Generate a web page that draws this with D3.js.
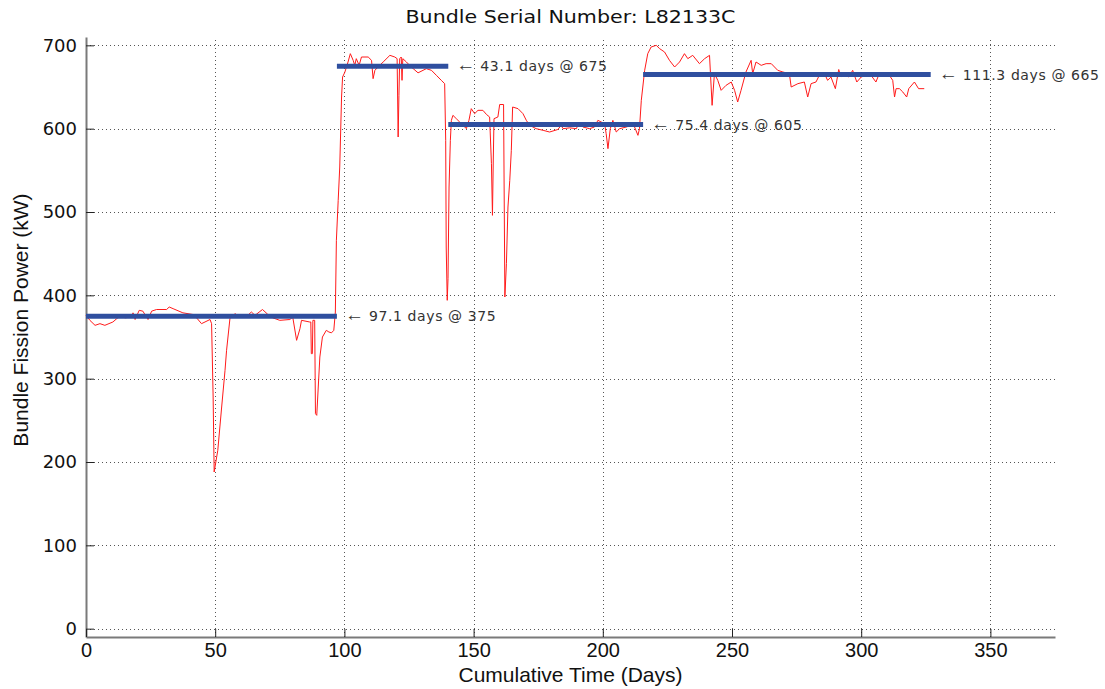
<!DOCTYPE html>
<head>
<meta charset="utf-8">
<title>Bundle Fission Power</title>
<script type="text/javascript" src="https://d3js.org/d3.v7.min.js"></script>
<style>
body { margin: 0; background: #fff; }
.grid line { stroke: #555; stroke-width: 1; stroke-dasharray: 1,3; shape-rendering: crispEdges; }
.grid path { display: none; }
.axis path { stroke: #7a7a7a; stroke-width: 2; fill: none; }
.axis line { stroke: #222; stroke-width: 1; }
.axis text { fill: #111; }
.ytick text { font-family: "DejaVu Sans"; font-size: 18px; }
.xtick text { font-family: "Liberation Sans"; font-size: 20px; }
.label { font-family: "Liberation Sans"; font-size: 21px; fill: #111; }
.title { font-family: "DejaVu Sans"; font-size: 18px; fill: #111; }
.power { fill: none; stroke: #ff1a1a; stroke-width: 1; }
.level { stroke: #2f4f9f; stroke-width: 5; }
.note { font-family: "DejaVu Sans"; font-size: 14px; fill: #333; letter-spacing: 0.6px; }
.arrow { font-family: "Liberation Sans"; font-size: 19px; letter-spacing: 0; }
</style>
</head>
<body>
<div id="container"></div>
<script>
//----------------------------DATA------------------------------//
const days = [0, 1.5, 3.5, 5.4, 7.3, 10.4, 11.9, 13.8, 15, 17.7, 18.2, 19, 20.6, 22, 24, 25.4,
  27.3, 31.2, 32.2, 33.7, 37.5, 41.4, 42.8, 44.7, 48, 48.6, 49.2, 49.6, 51, 52.5, 53.8, 54.4,
  55.7, 57.6, 58.8, 62.6, 64, 65.4, 68.3, 70.4, 72.3, 75, 78.9, 80, 81.5, 82.8, 83.4, 86.6,
  87.0, 87.2, 87.6, 87.8, 88.5, 88.8, 89.3, 90.5, 91.5, 93, 94, 95, 95.9, 96.5, 96.9, 97.6,
  98.2, 98.9, 99.3, 100.2, 101.4, 102.3, 103.4, 104, 104.6, 105.7, 106.6, 109.2, 110.5, 111.1,
  111.8, 113, 115, 117.6, 119.5, 120.4, 120.8, 121.1, 121.4, 122, 122.3, 122.6, 124, 125.9,
  128.5, 131.7, 133.7, 135.6, 137.5, 138.8, 139.2, 139.4, 139.8, 140.1, 140.5, 141, 141.4,
  142, 143.3, 144.6, 146.6, 147.2, 148.2, 149.1, 150.4, 151.7, 153.6, 155, 156.2, 156.9,
  157.3, 157.6, 157.9, 159.4, 160.1, 161.6, 162.1, 162.7, 163.3, 164, 164.6, 165.1, 167.2,
  169.1, 170.4, 171.7, 174.2, 176.9, 179.4, 182.6, 183.9, 184.6, 187.2, 189.8, 190.8, 192.3,
  194.9, 196.8, 198.1, 199.4, 200.7, 201.3, 202, 202.9, 203.9, 205.2, 206.5, 209.1, 211,
  212.3, 213.6, 214.2, 214.9, 216.2, 217.4, 218.7, 220.7, 222, 223.9, 225.8, 227.8, 229.7,
  231.6, 232.9, 234.8, 237.4, 239.4, 241.3, 242.3, 243.2, 244.5, 245.8, 247.7, 249.7, 251,
  252.2, 253.5, 255.4, 257.4, 258, 259.3, 261.3, 263.2, 265.2, 267.7, 269.7, 272.2, 272.9,
  275.5, 278, 279.3, 280.6, 282.5, 283.8, 285.8, 287, 288.3, 290, 291.3, 292.2, 293.5, 295.2,
  296.7, 298.3, 300, 301.9, 303.8, 305.7, 307, 309, 310.9, 312.2, 312.9, 313.5, 314.8, 316.1,
  317.6, 318.4, 320.6, 322.2, 324.4];
const power = [376, 370, 364, 366, 364, 368, 372, 377, 373, 374, 379, 371, 382, 381, 371, 381,
  383, 383, 386, 384, 379, 377, 373, 366, 371, 366, 278, 188, 214, 266, 310, 334,
  372, 378, 376, 376, 380, 376, 383, 377, 373, 370, 371, 374, 346, 360, 370, 368,
  368, 330, 330, 370, 370, 258, 256, 326, 350, 358, 356, 355, 358, 380, 466, 514,
  554, 638, 662, 668, 680, 690, 682, 676, 684, 676, 686, 686, 682, 660,
  670, 674, 680, 688, 686, 684, 590, 640, 684, 686, 658, 684, 680, 674,
  667, 672, 670, 664, 658, 654, 586, 458, 394, 420, 530, 586, 610,
  616, 612, 608, 602, 600, 610, 624, 618, 622, 622, 617, 614, 558,
  496, 560, 612, 614, 629, 629, 398, 438, 506, 538, 574, 626, 624,
  618, 610, 604, 600, 598, 596, 599, 604, 600, 601, 600, 608, 602,
  600, 602, 610, 608, 606, 594, 576, 600, 610, 596, 600, 602, 604,
  602, 592, 600, 634, 670, 690, 698, 700, 696, 692, 682, 674, 680,
  690, 684, 688, 678, 684, 688, 628, 666, 658, 646, 652, 656, 646,
  632, 646, 668, 682, 666, 680, 676, 678, 678, 670, 668, 666, 650,
  654, 656, 638, 654, 656, 664, 666, 658, 662, 648, 671, 662, 666, 662,
  670, 656, 662, 664, 664, 656, 666, 666, 664, 658, 638, 648, 648, 644,
  638, 648, 656, 648, 648];

// averaged power levels per period
const levelStart = [0, 97.1, 140.2, 215.6];
const levelDays = [97.1, 43.1, 75.4, 111.3];
const levelPower = [375, 675, 605, 665];

const xTicks = [0, 50, 100, 150, 200, 250, 300, 350];
const yTicks = [0, 100, 200, 300, 400, 500, 600, 700];

//----------------------------SVG-------------------------------//
const width = 1105;
const height = 689;
const plotL = 86, plotR = 1055, plotT = 37, plotB = 637;

const svg = d3.select("div#container").append("svg")
    .attr("width", width)
    .attr("height", height);

const xScale = d3.scaleLinear().domain([0, 375]).range([plotL, plotR]);
const yScale = d3.scaleLinear().domain([-10, 710]).range([plotB, plotT]);

//----------------------------GRID------------------------------//
svg.append("g")
    .attr("class", "grid")
    .attr("transform", "translate(" + plotL + ",0)")
    .call(d3.axisLeft(yScale).tickValues(yTicks).tickSize(-(plotR - plotL)).tickFormat(""));

svg.append("g")
    .attr("class", "grid")
    .attr("transform", "translate(0," + plotB + ")")
    .call(d3.axisBottom(xScale).tickValues(xTicks).tickSize(-(plotB - plotT)).tickFormat(""));

//----------------------------AXES------------------------------//
svg.append("g")
    .attr("class", "axis ytick")
    .attr("transform", "translate(" + plotL + ",0)")
    .call(d3.axisLeft(yScale).tickValues(yTicks).tickSizeInner(-8).tickSizeOuter(0).tickPadding(9));

svg.append("g")
    .attr("class", "axis xtick")
    .attr("transform", "translate(0," + plotB + ")")
    .call(d3.axisBottom(xScale).tickValues(xTicks).tickSizeInner(-8).tickSizeOuter(0).tickPadding(6));

//----------------------------LINES-----------------------------//
const line = d3.line()
    .x(function(d, i) { return xScale(days[i]); })
    .y(function(d) { return yScale(d); });

svg.append("path")
    .attr("class", "power")
    .attr("d", line(power));

const levels = levelPower.map(function(p, i) {
    return { start: levelStart[i], len: levelDays[i], power: p };
});

const lv = svg.selectAll(".lv")
    .data(levels)
    .enter()
    .append("g");

lv.append("line")
    .attr("class", "level")
    .attr("x1", function(d) { return xScale(d.start); })
    .attr("x2", function(d) { return xScale(d.start + d.len); })
    .attr("y1", function(d) { return yScale(d.power); })
    .attr("y2", function(d) { return yScale(d.power); });

const notes = lv.append("text")
    .attr("class", "note")
    .attr("x", function(d) { return xScale(d.start + d.len) + 8; })
    .attr("y", function(d) { return yScale(d.power) + 5; });

notes.append("tspan")
    .attr("class", "arrow")
    .text("\u2190");

notes.append("tspan")
    .text(function(d) { return " " + d.len.toFixed(1) + " days @ " + d.power; });

//----------------------------TEXT------------------------------//
svg.append("text")
    .attr("class", "title")
    .attr("x", (plotL + plotR) / 2)
    .attr("y", 23)
    .attr("text-anchor", "middle")
    .attr("textLength", 330)
    .attr("lengthAdjust", "spacingAndGlyphs")
    .text("Bundle Serial Number: L82133C");

svg.append("text")
    .attr("class", "label")
    .attr("x", (plotL + plotR) / 2)
    .attr("y", 682)
    .attr("text-anchor", "middle")
    .text("Cumulative Time (Days)");

svg.append("text")
    .attr("class", "label")
    .attr("transform", "translate(28," + 320 + ") rotate(-90)")
    .attr("text-anchor", "middle")
    .text("Bundle Fission Power (kW)");
</script>
</body>
